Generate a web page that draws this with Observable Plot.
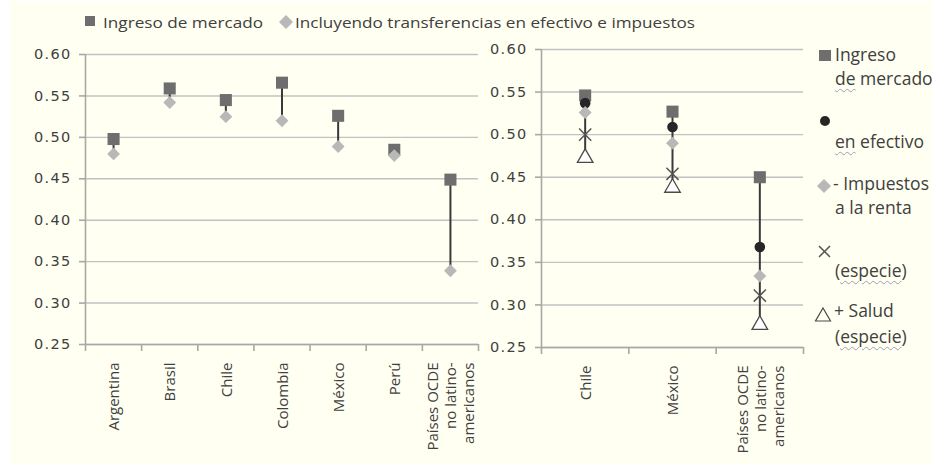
<!DOCTYPE html>
<html><head><meta charset="utf-8">
<script src="https://cdn.jsdelivr.net/npm/d3@7"></script>
<script src="https://cdn.jsdelivr.net/npm/@observablehq/plot@0.6"></script>
<style>
html,body{margin:0;padding:0;background:#fff;}
#wrap{position:relative;width:942px;height:466px;overflow:hidden;background:#fff;}
#bg{position:absolute;left:10px;top:2px;width:922px;height:462px;background:#fffff2;}
.panel{position:absolute;top:0;}
.panel g[aria-label="y-axis tick label"] text{letter-spacing:1.3px;}
.t{position:absolute;white-space:nowrap;font-family:"Open Sans";color:#404040;}
.leg{font-size:17.5px;line-height:17.5px;}
.w{text-decoration:underline wavy #9c9cb8;text-decoration-thickness:1px;text-underline-offset:3px;}
.sym{position:absolute;overflow:visible;}
</style>
</head><body>
<div id="wrap"><div id="bg"></div></div>
<script>
// ---- data ----
const yTicks = [0.25, 0.30, 0.35, 0.40, 0.45, 0.50, 0.55, 0.60];

const catsL = ["Argentina", "Brasil", "Chile", "Colombia", "México", "Perú", "Países OCDE\nno latino-\namericanos"];
const mercadoL = [0.498, 0.559, 0.545, 0.566, 0.526, 0.485, 0.449];
const inclL    = [0.480, 0.542, 0.525, 0.520, 0.489, 0.478, 0.339];

const catsR = ["Chile", "México", "Países OCDE\nno latino-\namericanos"];
const mercadoR   = [0.546, 0.527, 0.450];
const efectivoR  = [0.537, 0.509, 0.368];
const impuestosR = [0.526, 0.490, 0.334];
const especieR   = [0.500, 0.454, 0.311];
const saludR     = [0.475, 0.440, 0.279];

const topLegend = ["Ingreso de mercado", "Incluyendo transferencias en efectivo e impuestos"];

// ---- styles ----
const GRID = "#c2c2c2", AXIS = "#a8a8a8", TEXT = "#404040", LINE = "#3a3a3a";
const SQ = "#6e6e6e", DIA = "#b8b8b8", CIR = "#262626", XC = "#555555", TRI = "#4a4a4a";

function frame(cats, width, ml, mr, mt, mb, extra) {
  const idx = cats.map((_, i) => i);
  const bounds = d3.range(cats.length + 1).map(i => i - 0.5);
  return Plot.plot({
    width, height: 466, marginLeft: ml, marginRight: mr, marginTop: mt, marginBottom: mb,
    x: {domain: [-0.5, cats.length - 0.5], axis: null},
    y: {domain: [0.25, 0.60], axis: null},
    style: {background: "transparent", overflow: "visible"},
    marks: [
      Plot.gridY(yTicks, {stroke: GRID, strokeOpacity: 1, strokeWidth: 1.4}),
      Plot.ruleX([-0.5], {stroke: AXIS, strokeWidth: 1.6}),
      Plot.ruleY([0.25], {stroke: AXIS, strokeWidth: 1.6}),
      Plot.ruleX(bounds, {y1: () => 0.25, y2: () => 0.25, insetBottom: -7, stroke: AXIS, strokeWidth: 1.6}),
      Plot.axisY({ticks: yTicks, tickFormat: d3.format(".2f"), tickSize: 6, tickPadding: 8, label: null,
        stroke: AXIS, strokeWidth: 1.6, fill: TEXT, fontSize: 14.5, fontFamily: "DejaVu Sans"}),
      Plot.text(cats, {x: (d, i) => i, frameAnchor: "bottom", dy: 18, rotate: -90, textAnchor: "end",
        lineAnchor: "middle", lineHeight: 1.2, fontSize: 15, fontFamily: "Open Sans", fill: TEXT}),
      ...extra(idx)
    ]
  });
}

const left = frame(catsL, 480, 85, 2, 54, 122, idx => [
  Plot.ruleX(idx, {x: i => i, y1: i => mercadoL[i], y2: i => inclL[i], stroke: LINE, strokeWidth: 2}),
  Plot.dot(idx, {x: i => i, y: i => mercadoL[i], symbol: "square", r: 6.8, fill: SQ}),
  Plot.dot(idx, {x: i => i, y: i => inclL[i], symbol: "diamond2", r: 5.8, fill: DIA})
]);
left.classList.add("panel");
left.style.left = "0px";

const right = frame(catsR, 330, 61, 7, 49, 119, idx => [
  Plot.ruleX(idx, {x: i => i, y1: i => mercadoR[i], y2: i => saludR[i], stroke: LINE, strokeWidth: 2}),
  Plot.dot(idx, {x: i => i, y: i => mercadoR[i], symbol: "square", r: 6.8, fill: SQ}),
  Plot.dot(idx, {x: i => i, y: i => efectivoR[i], symbol: "circle", r: 5.3, fill: CIR}),
  Plot.dot(idx, {x: i => i, y: i => impuestosR[i], symbol: "diamond2", r: 5.8, fill: DIA}),
  Plot.dot(idx, {x: i => i, y: i => especieR[i], symbol: "times", r: 5.6, stroke: XC, strokeWidth: 1.5}),
  Plot.dot(idx, {x: i => i, y: i => saludR[i], symbol: "triangle", r: 5.8, dy: 2, fill: "#ffffff", stroke: TRI, strokeWidth: 1.3})
]);
right.classList.add("panel");
right.style.left = "480px";

const wrap = document.getElementById("wrap");
wrap.appendChild(left);
wrap.appendChild(right);

// ---- legends ----
function sym(x, y, w, h, inner) {
  const s = document.createElementNS("http://www.w3.org/2000/svg", "svg");
  s.setAttribute("class", "sym");
  s.setAttribute("width", w); s.setAttribute("height", h);
  s.style.left = x + "px"; s.style.top = y + "px";
  s.innerHTML = inner;
  wrap.appendChild(s);
}
function txt(x, baseline, html, cls, size, targetW) {
  const d = document.createElement("div");
  d.className = "t " + cls;
  d.innerHTML = html;
  d.style.left = x + "px";
  if (!cls) { d.style.fontSize = size + "px"; d.style.lineHeight = size + "px"; }
  const asc = size * 1.069 + (size - size * 1.362) / 2;
  d.style.top = (baseline - asc) + "px";
  wrap.appendChild(d);
  if (targetW) {
    const w = d.getBoundingClientRect().width;
    d.style.transformOrigin = "0 0";
    d.style.transform = `scaleX(${targetW / w})`;
  }
  return d;
}

// top legend
sym(85, 16, 11, 11, `<rect x="0" y="0" width="10" height="10" fill="${SQ}"/>`);
txt(103, 28, topLegend[0], "", 15, 160);
sym(279, 15, 15, 15, `<path d="M7,0L14,7L7,14L0,7Z" fill="${DIA}"/>`);
txt(295, 28, topLegend[1], "", 15, 400);

// right legend
sym(819, 50, 13, 12, `<rect x="0" y="0" width="12" height="11" fill="${SQ}"/>`);
txt(835, 62, "Ingreso", "leg", 17.5);
txt(835, 86, '<span class="w">de</span> mercado', "leg", 17.5);
sym(819, 115, 12, 12, `<circle cx="6" cy="6" r="5" fill="${CIR}"/>`);
txt(835, 149, '<span class="w">en</span> efectivo', "leg", 17.5);
sym(817, 179, 15, 15, `<path d="M7,0L14,7L7,14L0,7Z" fill="${DIA}"/>`);
txt(833, 191, "- Impuestos", "leg", 17.5);
txt(835, 215, "a la renta", "leg", 17.5);
sym(818, 245, 13, 13, `<path d="M1,1L12,12M12,1L1,12" stroke="${XC}" stroke-width="1.5"/>`);
txt(835, 278, '(<span class="w">especie</span>)', "leg", 17.5);
sym(815, 307, 17, 15, `<path d="M8,1L15.5,14L0.5,14Z" fill="none" stroke="${TRI}" stroke-width="1.2"/>`);
txt(834, 318, "+ Salud", "leg", 17.5);
txt(835, 344, '(<span class="w">especie</span>)', "leg", 17.5);
</script>
</body></html>
